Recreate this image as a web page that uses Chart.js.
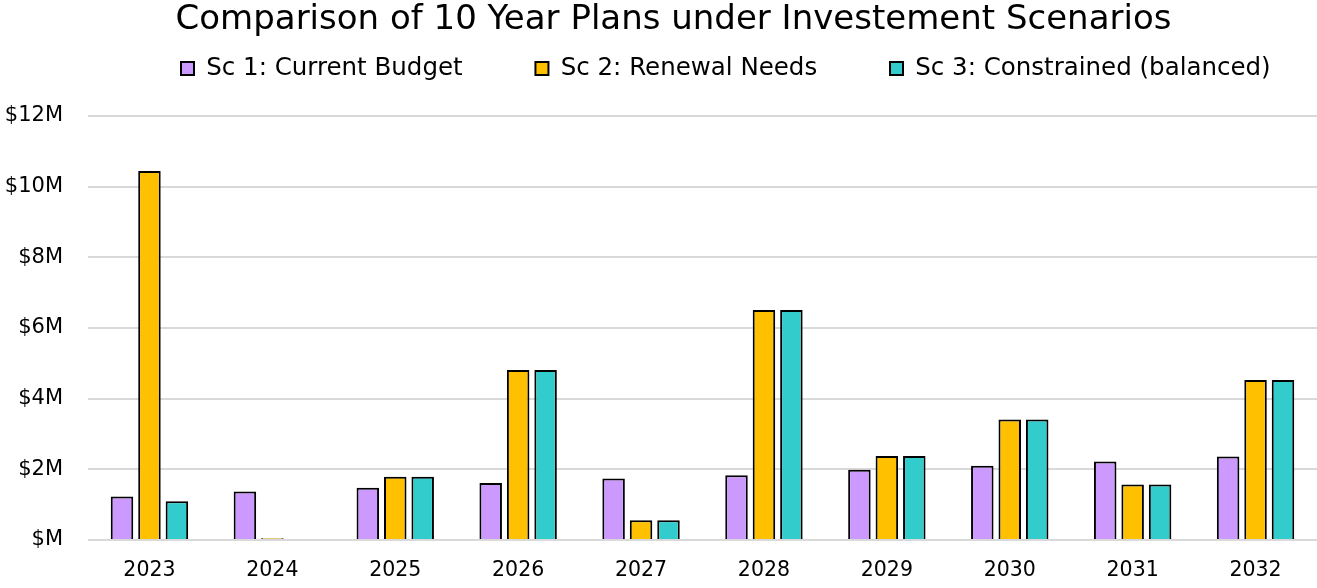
<!DOCTYPE html>
<html><head><meta charset="utf-8">
<script src="https://cdn.jsdelivr.net/npm/chart.js@4.4.1/dist/chart.umd.min.js"></script>
<style>html,body{margin:0;padding:0;background:#fff;}#wrap{width:1317px;height:588px;position:relative;}</style>
</head><body><div id="wrap"><canvas id="c"></canvas></div>
<script>
const years = ['2023','2024','2025','2026','2027','2028','2029','2030','2031','2032'];
const sc1Values = [1.23, 1.37, 1.48, 1.61, 1.74, 1.83, 1.99, 2.10, 2.22, 2.36];
const sc2Values = [10.44, 0.05, 1.79, 4.81, 0.56, 6.51, 2.38, 3.41, 1.57, 4.53];
const sc3Values = [1.10, 0, 1.79, 4.81, 0.56, 6.51, 2.38, 3.41, 1.57, 4.53];
const seriesNames = ['Sc 1: Current Budget', 'Sc 2: Renewal Needs', 'Sc 3: Constrained (balanced)'];
const yTickValues = [0, 2, 4, 6, 8, 10, 12];
const chartTitle = 'Comparison of 10 Year Plans under Investement Scenarios';

const FONT = 'DejaVu Sans';
const TITLE_FONT = 34;
const TITLE_PAD_TOP = 0;
const TITLE_SHIFT_X = 15;
const LEGEND_FONT = 24.5;
const BOX = 13;
const PLOT_TOP = 116;
// equal-width legend columns: measure label text to pick spacing
const mctx = document.createElement('canvas').getContext('2d');
mctx.font = LEGEND_FONT + 'px "' + FONT + '"';
const itemW = seriesNames.map(s => BOX + LEGEND_FONT / 2 + mctx.measureText(s).width);
const COLUMN = 354.5;
const LEGEND_PAD = COLUMN - (itemW[0] + itemW[1]) / 2;
const LEGEND_START_X = 181;
const LEGEND_ITEM_CENTER_Y = 68.5;

const layoutPatch = {
  id: 'layoutPatch',
  beforeLayout(chart) {
    const lg = chart.legend;
    if (lg && !lg._patched) {
      lg._patched = true;
      const fit = lg.fit.bind(lg);
      lg.fit = function () { fit(); this.height = PLOT_TOP - (TITLE_FONT * 1.2 + TITLE_PAD_TOP); };
      const draw = lg.draw.bind(lg);
      lg.draw = function () {
        const t = this.top, l = this.left, r = this.right;
        const start = (l + LEGEND_PAD + r - this.lineWidths[0]) / 2;
        const dx = LEGEND_START_X - start;
        this.top = LEGEND_ITEM_CENTER_Y - LEGEND_FONT / 2 - LEGEND_PAD; this.left = l + dx; this.right = r + dx;
        draw();
        this.top = t; this.left = l; this.right = r;
      };
    }
    const tt = chart.titleBlock;
    if (tt && !tt._patched) {
      tt._patched = true;
      const draw = tt.draw.bind(tt);
      tt.draw = function () {
        const l = this.left, r = this.right;
        this.left = l + TITLE_SHIFT_X; this.right = r + TITLE_SHIFT_X;
        draw();
        this.left = l; this.right = r;
      };
    }
  }
};

new Chart(document.getElementById('c'), {
  type: 'bar',
  data: {
    labels: years,
    datasets: [
      { label: seriesNames[0], data: sc1Values, backgroundColor: '#CC99FF' },
      { label: seriesNames[1], data: sc2Values, backgroundColor: '#FFC000' },
      { label: seriesNames[2], data: sc3Values, backgroundColor: '#33CCCC' }
    ].map(d => Object.assign(d, { borderColor: '#000', borderWidth: 2, categoryPercentage: 0.67, barPercentage: 0.82 }))
  },
  options: {
    responsive: true,
    maintainAspectRatio: false,
    animation: false,
    layout: { padding: 0 },
    plugins: {
      title: { display: true, text: chartTitle, color: '#000', font: { family: FONT, size: TITLE_FONT, weight: 'normal' }, padding: { top: TITLE_PAD_TOP, bottom: 0 } },
      legend: {
        display: true, position: 'top',
        labels: { color: '#000', font: { family: FONT, size: LEGEND_FONT }, boxWidth: BOX, boxHeight: BOX, padding: LEGEND_PAD }
      },
      tooltip: { enabled: false }
    },
    scales: {
      x: {
        grid: { display: false, drawTicks: false },
        border: { display: false },
        ticks: { color: '#000', font: { family: FONT, size: 20.5 }, padding: 18 },
        afterFit(s) { s.height = 48; }
      },
      y: {
        min: 0, max: 12,
        afterBuildTicks(s) { s.ticks = yTickValues.map(v => ({ value: v })); },
        grid: { color: '#d9d9d9', lineWidth: 2, drawTicks: false },
        border: { display: false },
        ticks: { color: '#000', font: { family: FONT, size: 21 }, padding: 25, callback: v => v === 0 ? '$M' : '$' + v + 'M' },
        afterFit(s) { s.width = 88; }
      }
    }
  },
  plugins: [layoutPatch]
});
</script></body></html>
